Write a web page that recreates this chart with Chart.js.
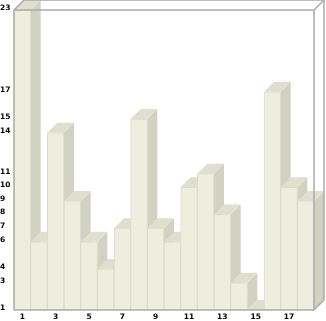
<!DOCTYPE html>
<html>
<head>
<meta charset="utf-8">
<script src="https://cdn.jsdelivr.net/npm/chart.js@4"></script>
<style>
  body { margin: 0; background: #fff; }
  #wrap { width: 326px; height: 321px; }
</style>
</head>
<body>
<div id="wrap"><canvas id="chart" width="326" height="321"></canvas></div>
<script>
// data
const categories = ['1', '2', '3', '4', '5', '6', '7', '8', '9', '10', '11', '12', '13', '14', '15', '16', '17', '18'];
const values = [23, 6, 14, 9, 6, 4, 7, 15, 7, 6, 10, 11, 8, 3, 1, 17, 10, 9];
const yTicks = [1, 3, 4, 6, 7, 8, 9, 10, 11, 14, 15, 17, 23];

const DEPTH = 10;
const FRONT = '#eeeedf';
const TOP = '#dfdfd0';
const SIDE = '#d2d2c2';
const FRAME = '#aaaaaa';

// --- 3d look: side + top faces behind each bar, then the box frame
const bars3d = {
    id: 'bars3d',
    beforeDatasetsDraw(chart) {
        const ctx = chart.ctx;
        const a = chart.chartArea;
        const meta = chart.getDatasetMeta(0);
        ctx.save();
        meta.data.forEach(el => {
            const l = el.x - el.width / 2, r = el.x + el.width / 2;
            const b = Math.min(el.base, a.bottom);
            const t = Math.min(el.y, b);
            ctx.fillStyle = SIDE;
            ctx.beginPath();
            ctx.moveTo(r, t);
            ctx.lineTo(r + DEPTH, t - DEPTH);
            ctx.lineTo(r + DEPTH, b - DEPTH);
            ctx.lineTo(r, b);
            ctx.closePath();
            ctx.fill();
            ctx.fillStyle = TOP;
            ctx.beginPath();
            ctx.moveTo(l, t);
            ctx.lineTo(r, t);
            ctx.lineTo(r + DEPTH, t - DEPTH);
            ctx.lineTo(l + DEPTH, t - DEPTH);
            ctx.closePath();
            ctx.fill();
        });
        ctx.restore();
    },
    afterDatasetsDraw(chart) {
        const { ctx, chartArea: a } = chart;
        ctx.save();
        ctx.strokeStyle = FRAME;
        ctx.lineWidth = 1.5;
        const seg = (x1, y1, x2, y2) => {
            ctx.beginPath();
            ctx.moveTo(x1, y1);
            ctx.lineTo(x2, y2);
            ctx.stroke();
        };
        seg(a.left, a.top, a.right, a.top);
        seg(a.right, a.top, a.right, a.bottom);
        seg(a.left, a.bottom, a.right, a.bottom);
        seg(a.left, a.top, a.left, a.bottom);
        seg(a.left, a.top, a.left + DEPTH, a.top - DEPTH);
        seg(a.right, a.top, a.right + DEPTH, a.top - DEPTH);
        seg(a.right, a.bottom, a.right + DEPTH, a.bottom - DEPTH);
        seg(a.left + DEPTH, a.top - DEPTH, a.right + DEPTH, a.top - DEPTH);
        seg(a.right + DEPTH, a.top - DEPTH, a.right + DEPTH, a.bottom - DEPTH);
        ctx.restore();
    }
};

new Chart(document.getElementById('chart'), {
    type: 'bar',
    data: {
        labels: categories,
        datasets: [{
            data: values,
            base: 1,
            backgroundColor: FRONT,
            borderColor: '#dcdccc',
            borderWidth: 1,
            barPercentage: 1,
            categoryPercentage: 1
        }]
    },
    options: {
        responsive: false,
        animation: false,
        events: [],
        layout: { padding: { top: 10, right: 12, left: 0, bottom: 0 } },
        plugins: {
            legend: { display: false },
            tooltip: { enabled: false }
        },
        scales: {
            x: {
                grid: { display: false, drawTicks: false },
                border: { display: false },
                afterFit: s => { s.height = 11; },
                ticks: {
                    autoSkip: false,
                    maxRotation: 0,
                    padding: 3,
                    color: '#000',
                    font: { family: 'DejaVu Sans', size: 7.5, weight: 'bold' },
                    callback: (v, i) => (i % 2 === 0 ? categories[i] : '')
                }
            },
            y: {
                min: 1,
                max: 23,
                grid: { display: false, drawTicks: false },
                border: { display: false },
                afterFit: s => { s.width = 14; },
                afterBuildTicks: s => { s.ticks = yTicks.map(v => ({ value: v })); },
                ticks: {
                    autoSkip: false,
                    crossAlign: 'far',
                    labelOffset: -2,
                    color: '#000',
                    font: { family: 'DejaVu Sans', size: 7.5, weight: 'bold' }
                }
            }
        }
    },
    plugins: [bars3d]
});
</script>
</body>
</html>
